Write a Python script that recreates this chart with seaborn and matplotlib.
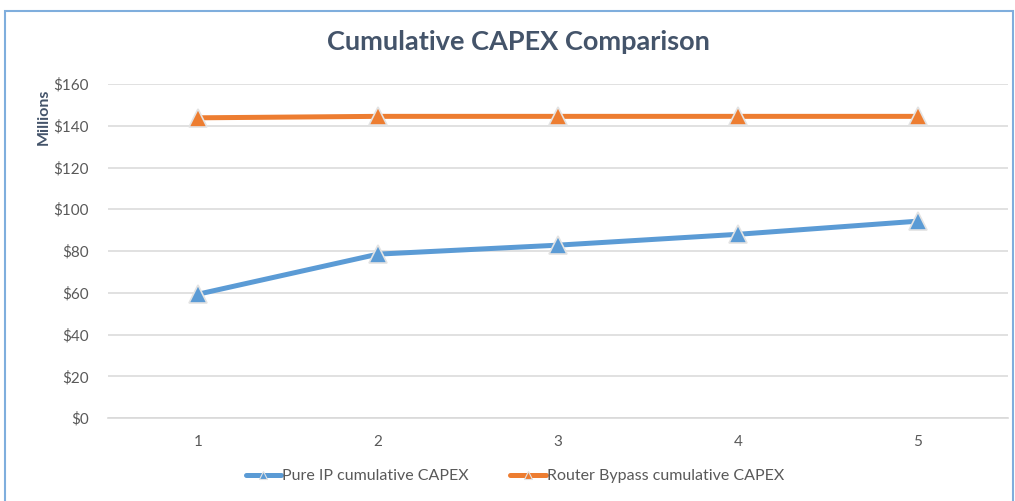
import pandas as pd
import matplotlib
matplotlib.use("Agg")
import matplotlib.pyplot as plt
from matplotlib.patches import Rectangle
import seaborn as sns

# Data (values in $ millions)
years = [1, 2, 3, 4, 5]
pure_ip = [59.3, 78.5, 82.8, 88.0, 94.3]
router_bypass = [143.8, 144.5, 144.5, 144.5, 144.5]
y_ticks = [0, 20, 40, 60, 80, 100, 120, 140, 160]
series_names = ["Pure IP cumulative CAPEX", "Router Bypass cumulative CAPEX"]

df = pd.DataFrame({
    "Year": years * 2,
    "CAPEX": pure_ip + router_bypass,
    "Series": [series_names[0]] * len(years) + [series_names[1]] * len(years),
})

sns.set_theme(style="white")
plt.rcParams["font.family"] = ["Lato", "DejaVu Sans"]

text_color = "#595959"
title_color = "#44546A"
palette = {series_names[0]: "#5B9BD5", series_names[1]: "#ED7D31"}

fig = plt.figure(figsize=(10.15, 5.01), dpi=100)
ax = fig.add_axes([108 / 1015, 1 - 418 / 501, (1008 - 108) / 1015, (418 - 84) / 501])

sns.lineplot(data=df, x="Year", y="CAPEX", hue="Series", palette=palette,
             marker="^", markersize=13, markeredgecolor="#E3E3E3",
             markeredgewidth=1.2, linewidth=3.6, ax=ax, legend=False)

ax.set_xlim(0.5, 5.5)
ax.set_ylim(0, 160)
ax.set_yticks(y_ticks)
ax.set_yticklabels([f"${v}" for v in y_ticks])
ax.set_xticks(years)
ax.set_xticklabels([str(v) for v in years])
ax.set_xticks([0.5 + i for i in range(6)], minor=True)
ax.tick_params(axis="x", which="major", length=0, pad=12, labelsize=11, labelcolor=text_color)
ax.tick_params(axis="x", which="minor", length=5, color="#D9D9D9", width=1.2, direction="out")
ax.tick_params(axis="y", length=0, pad=14, labelsize=11, labelcolor=text_color)
ax.grid(axis="y", color="#DCDCDC", linewidth=1.2)
ax.set_axisbelow(True)
for side in ["top", "right", "left"]:
    ax.spines[side].set_visible(False)
ax.spines["bottom"].set_color("#D9D9D9")
ax.spines["bottom"].set_linewidth(1.2)
ax.set_xlabel("")
ax.set_ylabel("")

fig.text(518 / 1015, 1 - 42 / 501, "Cumulative CAPEX Comparison", ha="center", va="center",
         fontsize=19.5, fontweight="bold", color=title_color)
fig.text(44 / 1015, 1 - 117 / 501, "Millions", rotation=90, ha="center", va="center",
         fontsize=11.5, fontweight="bold", color=title_color)

# legend at the bottom
handles = [plt.Line2D([], [], color=palette[n], linewidth=3.6, marker="^", markersize=6,
                      markeredgecolor="#E3E3E3", markeredgewidth=0.8) for n in series_names]
fig.legend(handles, series_names, loc="center", bbox_to_anchor=(515 / 1015, 1 - 476 / 501),
           ncol=2, frameon=False, fontsize=11.5, labelcolor=text_color,
           handlelength=2.2, handletextpad=0.1, columnspacing=2.6)

# chart frame
fig.add_artist(Rectangle((5 / 1015, -0.1), (1013 - 5) / 1015, 1.1 - 11 / 501,
                         transform=fig.transFigure, fill=False,
                         edgecolor="#7FAEDD", linewidth=1.5, clip_on=False))

fig.savefig("out.png", dpi=100)
